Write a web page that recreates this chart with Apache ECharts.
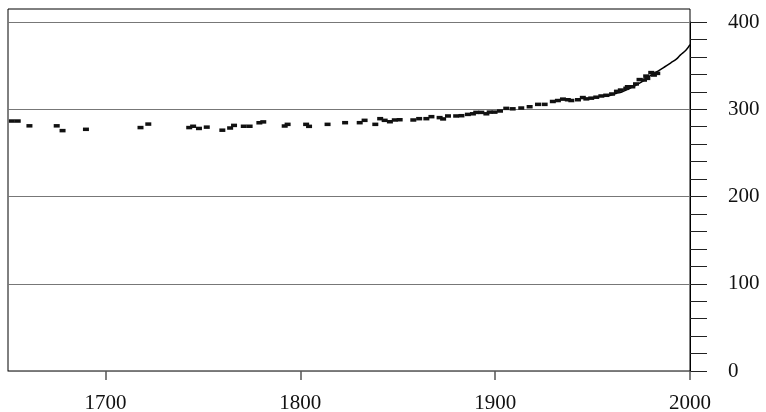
<!DOCTYPE html>
<html>
<head>
<meta charset="utf-8">
<script src="https://cdn.jsdelivr.net/npm/echarts@6/dist/echarts.min.js"></script>
<style>
  html, body { margin: 0; padding: 0; background: #fff; }
  #container { width: 766px; height: 412px; }
</style>
</head>
<body>
<div id="container"></div>
<script>
var dom = document.getElementById("container");
var myChart = echarts.init(dom);

// ice core samples (year, ppm)
var iceYears = [
    1652, 1655, 1661, 1675, 1678, 1690, 1718, 1722, 1743, 1745,
    1748, 1752, 1760, 1764, 1766, 1771, 1774, 1779, 1781, 1792,
    1793.5, 1803, 1804.5, 1814, 1823, 1830.5, 1833, 1838.5, 1841, 1843.3,
    1846, 1848.5, 1851, 1858, 1861, 1864.7, 1867.3, 1871.5, 1873.3, 1875.8,
    1880, 1882.7, 1886, 1888.6, 1890.3, 1892.9, 1895.5, 1897.2, 1899.7, 1902.5,
    1905.7, 1909, 1913.4, 1917.7, 1922, 1925.4, 1929.6, 1932.2, 1934.8, 1937.3,
    1939.1, 1942.5, 1945, 1946.8, 1949.3, 1951.9, 1954.5, 1957, 1960, 1962.5,
    1964.5, 1967.3, 1968.1, 1970.4, 1972.3, 1974.1, 1976.4, 1977.5, 1978.1, 1980.1,
    1981.5, 1983.2
];
var iceCO2 = [
    286.5, 286.5, 281, 281, 275.5, 277, 279, 283, 279, 280.5,
    278, 279.5, 276, 278.5, 281.5, 280.5, 280.5, 284.5, 285.5, 280.8,
    282.7, 282.7, 280.4, 282.7, 284.6, 284.6, 287.3, 282.7, 289.2, 287.3,
    285.7, 287.7, 288, 287.7, 289.2, 289.2, 291.5, 290.4, 288.9, 292.3,
    292.3, 292.6, 294.1, 294.8, 296.4, 296.4, 294.8, 296.7, 296.7, 298,
    301, 300.5, 301.4, 302.9, 305.6, 305.6, 308.9, 310, 311.6, 310.9,
    310, 310.9, 313.4, 311.9, 312.7, 313.8, 315.2, 316, 317.5, 320.5,
    322, 324, 325.8, 325.8, 329, 334, 333.5, 338, 335.4, 342,
    339.2, 341.1
];

// direct atmospheric record
var airYears = [1958, 1960, 1962, 1965, 1968, 1970, 1973, 1975, 1978, 1980, 1983, 1985, 1988, 1990, 1993, 1995, 1998, 2000];
var airCO2 = [315, 316.5, 318, 319.8, 322.8, 325, 328.5, 331, 335.5, 339, 343, 345.8, 350, 353, 357.5, 362, 368, 374];

var font = "'Liberation Serif', 'DejaVu Serif', serif";

var pairs = function (xs, ys) {
    return xs.map(function (x, i) { return [x, ys[i]]; });
};

// plot area spans 1650..2000 over 682px; the tick grid is stretched back to 1600
// so its ticks land on whole centuries
var plotLeft = 8, plotWidth = 682;
var pxPerYear = plotWidth / 350;

var option = {
    animation: false,
    grid: [
        // outer frame
        { left: plotLeft, top: 9, width: plotWidth, height: 362, show: true, borderColor: '#000', borderWidth: 1, backgroundColor: 'transparent', outerBoundsMode: 'none' },
        // plotting area
        { left: plotLeft, top: 22, width: plotWidth, height: 349, outerBoundsMode: 'none' },
        // century ticks
        { left: plotLeft - 50 * pxPerYear, top: 22, width: 400 * pxPerYear, height: 349, outerBoundsMode: 'none' }
    ],
    xAxis: [
        { gridIndex: 0, type: 'value', min: 1650, max: 2000, show: false },
        {
            gridIndex: 1, type: 'value', min: 1650, max: 2000,
            axisLine: { show: true, lineStyle: { color: '#777', width: 1.2 } },
            axisTick: { show: false },
            axisLabel: { show: false },
            splitLine: { show: false }
        },
        {
            gridIndex: 2, type: 'value', position: 'bottom', min: 1600, max: 2000, interval: 100,
            axisLine: { show: true, onZero: false, lineStyle: { color: 'rgba(0,0,0,0)' } },
            axisTick: { show: true, inside: false, length: 9, lineStyle: { color: '#555', width: 1.5 } },
            axisLabel: {
                margin: 22, fontFamily: font, fontSize: 21, color: '#111',
                formatter: function (v) { return v > 1650 ? String(v) : ''; }
            },
            splitLine: { show: false }
        }
    ],
    yAxis: [
        { gridIndex: 0, type: 'value', min: 0, max: 415, show: false },
        {
            gridIndex: 1, type: 'value', position: 'right', min: 0, max: 400, interval: 20,
            axisLine: { show: true, lineStyle: { color: '#000', width: 1 } },
            axisTick: { show: true, inside: false, length: 17, lineStyle: { color: '#222', width: 1 } },
            axisLabel: { show: false },
            splitLine: { show: false }
        },
        {
            gridIndex: 1, type: 'value', position: 'right', min: 0, max: 400, interval: 100,
            axisLine: { show: false },
            axisTick: { show: false },
            axisLabel: { margin: 38, padding: [6, 0, 0, 0], fontFamily: font, fontSize: 21, color: '#111' },
            splitLine: { show: true, lineStyle: { color: '#777', width: 1.2 } }
        },
        { gridIndex: 2, type: 'value', min: 0, max: 400, show: false }
    ],
    series: [
        {
            type: 'line',
            xAxisIndex: 1,
            yAxisIndex: 1,
            data: pairs(airYears, airCO2),
            smooth: true,
            showSymbol: false,
            lineStyle: { color: '#000', width: 1.5 },
            z: 3
        },
        {
            type: 'scatter',
            xAxisIndex: 1,
            yAxisIndex: 1,
            data: pairs(iceYears, iceCO2),
            symbol: 'rect',
            symbolSize: [6, 3.5],
            itemStyle: { color: '#111', opacity: 1 },
            z: 4
        }
    ]
};

myChart.setOption(option);
</script>
</body>
</html>
